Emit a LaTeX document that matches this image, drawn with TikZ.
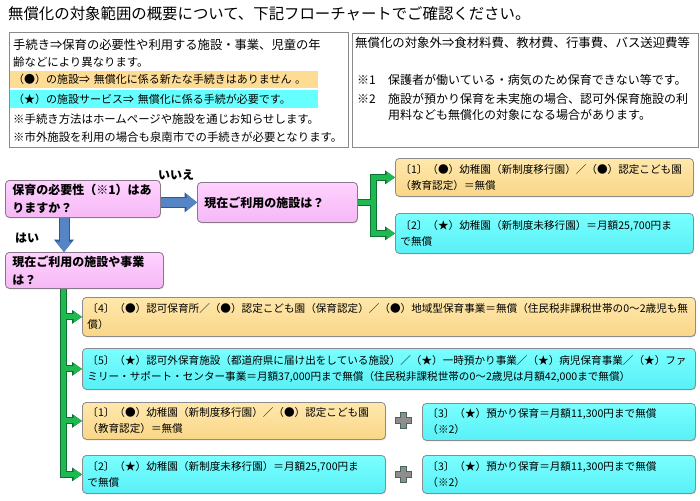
\documentclass[tikz,border=0pt]{standalone}
\usepackage{fontspec}
\setmainfont{Noto Sans CJK JP}
\usetikzlibrary{arrows.meta,shadows}
\definecolor{pinkf}{HTML}{FFD2FF}
\definecolor{pinkd}{HTML}{F5B8F5}
\definecolor{pinkb}{HTML}{8A788A}
\definecolor{orangef}{HTML}{FFE8AC}
\definecolor{oranged}{HTML}{F9D688}
\definecolor{cyanf}{HTML}{7AFFFF}
\definecolor{cyand}{HTML}{58F0F6}
\definecolor{bordg}{HTML}{8C8C8C}
\definecolor{gfill}{HTML}{20B850}
\definecolor{gdark}{HTML}{0B7232}
\definecolor{bfill}{HTML}{5585C4}
\definecolor{bdark}{HTML}{2E5A8E}
\definecolor{bandO}{HTML}{FFDC94}
\definecolor{bandC}{HTML}{66FFFF}
\definecolor{plusf}{HTML}{8E8E8E}
\definecolor{plusd}{HTML}{4A6656}
\definecolor{infob}{HTML}{8A8A8A}
\newcommand\jfs[2]{\fontsize{#1}{#2}\selectfont}
\pgfdeclarelayer{bg}
\pgfdeclarelayer{paper}
\pgfsetlayers{paper,bg,main}
\tikzset{
  box/.style={rounded corners=4pt, draw=bordg, line width=0.8pt, anchor=north west,
    inner xsep=5pt, inner ysep=0pt, align=left, font=\jfs{10.6}{16},
    drop shadow={shadow xshift=0.8pt, shadow yshift=-1pt, opacity=0.3}},
  pbox/.style={box, top color=pinkf, bottom color=pinkd, draw=pinkb, inner xsep=7pt,
    font=\bfseries\jfs{12}{18}},
  obox/.style={box, top color=orangef, bottom color=oranged},
  cbox/.style={box, top color=cyanf, bottom color=cyand},
  infobox/.style={draw=infob, line width=1.3pt, anchor=north west, inner sep=0pt},
  itext/.style={anchor=west, inner sep=0pt, font=\jfs{11.4}{14}},
  rtext/.style={anchor=west, inner sep=0pt, font=\jfs{12}{14}},
  band/.style={anchor=north west, inner xsep=3pt, inner ysep=0pt, align=left, font=\jfs{11}{14}},
  lbl/.style={anchor=west, inner sep=0pt, font=\bfseries\jfs{12}{14}},
  gout/.style={draw=gdark, line width=7pt},
  gin/.style={draw=gfill, line width=5pt},
  gouttip/.style={gout, -{Triangle[width=14pt,length=10pt,line width=0pt]}},
  gintip/.style={gin, -{Triangle[width=11pt,length=8.5pt,line width=0pt]}},
  bout/.style={draw=bdark, line width=11pt, -{Triangle[width=20pt,length=12.5pt,line width=0pt]}},
  bin/.style={draw=bfill, line width=9pt, -{Triangle[width=16.5pt,length=10.5pt,line width=0pt]}},
  plusst/.style={fill=plusf, draw=plusd, line width=0.9pt, line join=miter}
}
\begin{document}
\begin{tikzpicture}[x=1pt,y=-1pt]
\begin{pgfonlayer}{paper}
\fill[white] (0,0) rectangle (700,500);
\end{pgfonlayer}
\useasboundingbox (0,0) rectangle (700,500);

% title
\node[anchor=west, inner sep=0pt, font=\jfs{15.4}{18}] (title) at (8,14)
  {無償化の対象範囲の概要について、下記フローチャートでご確認ください。};

% info boxes
\node[infobox, minimum width=339pt, minimum height=115pt] (info1) at (9,32) {};
\node[infobox, minimum width=346pt, minimum height=114pt] (info2) at (352,33) {};

\node[itext, font=\jfs{12.3}{14}] (i1) at (13,45) {手続き⇒保育の必要性や利用する施設・事業、児童の年};
\node[itext] (i2) at (13,62) {齢などにより異なります。};
\node[band, fill=bandO, minimum width=308pt, minimum height=17pt, text width=302pt] (i3) at (10,71)
  {（●）の施設⇒ 無償化に係る新たな手続きはありません 。};
\node[band, fill=bandC, minimum width=308pt, minimum height=18pt, text width=302pt] (i4) at (10,90)
  {（★）の施設サービス⇒ 無償化に係る手続が必要です。};
\node[itext] (i5) at (13,119) {※手続き方法はホームページや施設を通じお知らせします。};
\node[itext] (i6) at (13,137) {※市外施設を利用の場合も泉南市での手続きが必要となります。};

\node[rtext, font=\jfs{12.4}{14}] (r1) at (355,43) {無償化の対象外⇒食材料費、教材費、行事費、バス送迎費等};
\node[rtext] (r2a) at (357,80) {※1};
\node[rtext] (r2) at (388,80) {保護者が働いている・病気のため保育できない等です。};
\node[rtext] (r3a) at (357,99) {※2};
\node[rtext] (r3) at (388,99) {施設が預かり保育を未実施の場合、認可外保育施設の利};
\node[rtext] (r4) at (388,115) {用料なども無償化の対象になる場合があります。};

% question boxes
\node[pbox, minimum width=155pt, minimum height=37pt, text width=141pt] (A) at (5,180)
  {保育の必要性（※1）はあ\\りますか？};
\node[pbox, minimum width=160pt, minimum height=40pt, text width=146pt] (B) at (197,182)
  {現在ご利用の施設は？};
\node[pbox, minimum width=158pt, minimum height=36pt, text width=144pt] (D) at (5,252)
  {現在ご利用の施設や事業\\は？};

\node[lbl] (no) at (158,175) {いいえ};
\node[lbl] (yes) at (15,238) {はい};

% answer boxes (right)
\node[obox, minimum width=298pt, minimum height=38pt, text width=288pt] (C1) at (395,158)
  {〔1〕（●）幼稚園（新制度移行園）／（●）認定こども園\\（教育認定）＝無償};
\node[cbox, minimum width=298pt, minimum height=40pt, text width=288pt] (C2) at (395,213)
  {〔2〕（★）幼稚園（新制度未移行園）＝月額25,700円ま\\で無償};

% answer boxes (lower)
\node[obox, minimum width=613pt, minimum height=39pt, text width=603pt] (E4) at (82,297)
  {〔4〕（●）認可保育所／（●）認定こども園（保育認定）／（●）地域型保育事業＝無償（住民税非課税世帯の0～2歳児も無\\償）};
\node[cbox, minimum width=613pt, minimum height=41pt, text width=603pt] (E5) at (82,348)
  {〔5〕（★）認可外保育施設（都道府県に届け出をしている施設）／（★）一時預かり事業／（★）病児保育事業／（★）ファ\\ミリー・サポート・センター事業＝月額37,000円まで無償（住民税非課税世帯の0～2歳児は月額42,000まで無償）};
\node[obox, minimum width=303pt, minimum height=37pt, text width=293pt] (F1) at (82,402)
  {〔1〕（●）幼稚園（新制度移行園）／（●）認定こども園\\（教育認定）＝無償};
\node[cbox, minimum width=303pt, minimum height=38pt, text width=293pt] (F2) at (82,455)
  {〔2〕（★）幼稚園（新制度未移行園）＝月額25,700円ま\\で無償};
\node[cbox, minimum width=273pt, minimum height=37pt, text width=263pt] (F3a) at (422,403)
  {〔3〕（★）預かり保育＝月額11,300円まで無償\\（※2）};
\node[cbox, minimum width=273pt, minimum height=38pt, text width=263pt] (F3b) at (422,455)
  {〔3〕（★）預かり保育＝月額11,300円まで無償\\（※2）};

% plus signs
\draw[plusst] (403.5,420.5) ++(-2.7,-8) -- ++(5.4,0) -- ++(0,5.3) -- ++(5.3,0) -- ++(0,5.4)
  -- ++(-5.3,0) -- ++(0,5.3) -- ++(-5.4,0) -- ++(0,-5.3) -- ++(-5.3,0) -- ++(0,-5.4)
  -- ++(5.3,0) -- cycle;
\draw[plusst] (403.5,474.5) ++(-2.7,-8) -- ++(5.4,0) -- ++(0,5.3) -- ++(5.3,0) -- ++(0,5.4)
  -- ++(-5.3,0) -- ++(0,5.3) -- ++(-5.4,0) -- ++(0,-5.3) -- ++(-5.3,0) -- ++(0,-5.4)
  -- ++(5.3,0) -- cycle;

% connectors
\coordinate (dA) at ([xshift=59pt]A.south west);
\coordinate (dD) at (dA |- D.north);
\coordinate (jL) at ([xshift=58pt]D.south west);
\coordinate (jR) at ([xshift=16pt]B.east);
\begin{pgfonlayer}{bg}
  % blue arrows
  \draw[bout] (A.east |- B.west) -- (B.west);
  \draw[bin]  (A.east |- B.west) -- (B.west);
  \draw[bout] (dA) -- (dD);
  \draw[bin]  (dA) -- (dD);
  % green tree (right)
  \draw[gout] (B.east) -- (jR);
  \draw[gouttip] (jR) |- (C1.west);
  \draw[gouttip] (jR) |- (C2.west);
  % green tree (left)
  \draw[gouttip] (jL) |- (F2.west);
  \draw[gouttip] (jL |- E4.west) -- (E4.west);
  \draw[gouttip] (jL |- E5.west) -- (E5.west);
  \draw[gouttip] (jL |- F1.west) -- (F1.west);
  % inner fills
  \draw[gin] (B.east) -- (jR);
  \draw[gintip] (jR) |- (C1.west);
  \draw[gintip] (jR) |- (C2.west);
  \draw[gintip] (jL) |- (F2.west);
  \draw[gintip] (jL |- E4.west) -- (E4.west);
  \draw[gintip] (jL |- E5.west) -- (E5.west);
  \draw[gintip] (jL |- F1.west) -- (F1.west);
\end{pgfonlayer}
\end{tikzpicture}
\end{document}
